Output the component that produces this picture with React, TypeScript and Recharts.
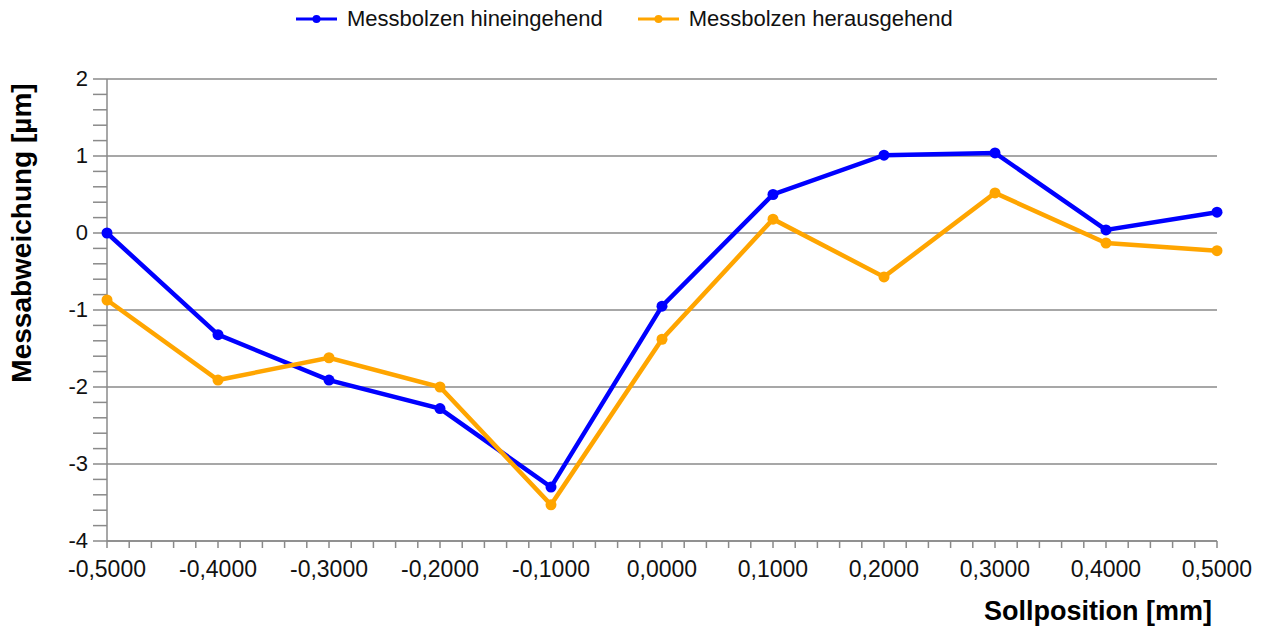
import React from 'react';
import { LineChart, Line, XAxis, YAxis, ReferenceLine } from 'recharts';

const positions = [-0.5, -0.4, -0.3, -0.2, -0.1, 0, 0.1, 0.2, 0.3, 0.4, 0.5];
const hineingehend = [0, -1.32, -1.91, -2.28, -3.3, -0.95, 0.5, 1.01, 1.04, 0.04, 0.27];
const herausgehend = [-0.87, -1.91, -1.62, -2.0, -3.53, -1.38, 0.18, -0.57, 0.52, -0.13, -0.23];

const yMajor = [-4, -3, -2, -1, 0, 1, 2];
// minor ticks: 5 per 0.1 on x, 5 per 1 on y
const xTicks: number[] = [];
for (let i = 0; i <= 50; i++) xTicks.push(Math.round(i * 2 - 50) / 100);
const yTicks: number[] = [];
for (let i = 0; i <= 30; i++) yTicks.push(Math.round(i * 2 - 40) / 10);

const series = [
  { key: 'hinein', name: 'Messbolzen hineingehend', color: '#0000ff', values: hineingehend },
  { key: 'heraus', name: 'Messbolzen herausgehend', color: '#ffa500', values: herausgehend }
];

const data = positions.map((x, i) => ({
  x,
  hinein: hineingehend[i],
  heraus: herausgehend[i]
}));

const FONT = '"Liberation Sans", Arial, sans-serif';
const GRID = '#8a8a8a';

const isMajor = (v: number, step: number) => Math.abs(v / step - Math.round(v / step)) < 1e-6;

function XTick(props: any) {
  const { x, y, payload } = props;
  if (!isMajor(payload.value, 0.1)) return <g />;
  const label = payload.value.toFixed(4).replace('.', ',');
  return (
    <text x={x} y={y} dy={29} textAnchor="middle" fontSize={23} fontFamily={FONT} fill="#111">
      {label === '-0,0000' ? '0,0000' : label}
    </text>
  );
}

function YTick(props: any) {
  const { x, y, payload } = props;
  if (!isMajor(payload.value, 1)) return <g />;
  return (
    <text x={x} y={y} dx={-5} dy={7} textAnchor="end" fontSize={22} fontFamily={FONT} fill="#111">
      {Math.round(payload.value)}
    </text>
  );
}

function LegendIcon({ color }: { color: string }) {
  return (
    <svg width={41} height={12} style={{ display: 'block' }}>
      <line x1={0} y1={6} x2={41} y2={6} stroke={color} strokeWidth={3} />
      <circle cx={20.5} cy={6} r={4} fill={color} />
    </svg>
  );
}

export default function App() {
  return (
    <div style={{ position: 'absolute', left: 0, top: 0, width: 1264, height: 628, background: '#fff' }}>
      <div
        style={{
          position: 'absolute',
          left: 296,
          top: 6,
          display: 'flex',
          alignItems: 'center',
          fontFamily: FONT,
          fontSize: 22,
          color: '#111'
        }}
      >
        {series.map((s, i) => (
          <div key={s.key} style={{ display: 'flex', alignItems: 'center', marginLeft: i === 0 ? 0 : 35 }}>
            <LegendIcon color={s.color} />
            <span style={{ marginLeft: 10 }}>{s.name}</span>
          </div>
        ))}
      </div>
      <LineChart width={1264} height={628} data={data} margin={{ top: 79, right: 47, left: 0, bottom: 0 }}>
        {yMajor.map((v) => (
          <ReferenceLine key={v} y={v} stroke={GRID} strokeWidth={1.5} />
        ))}
        <XAxis
          dataKey="x"
          type="number"
          domain={[-0.5, 0.5]}
          ticks={xTicks}
          interval={0}
          height={87}
          tickSize={7}
          tickMargin={0}
          axisLine={{ stroke: GRID, strokeWidth: 1.5 }}
          tickLine={{ stroke: GRID, strokeWidth: 1.5 }}
          tick={XTick}
          label={{
            content: (p: any) => (
              <text
                x={p.viewBox.x + p.viewBox.width - 5}
                y={p.viewBox.y + 79}
                textAnchor="end"
                fontSize={27}
                fontWeight="bold"
                fontFamily={FONT}
                fill="#000"
              >
                Sollposition [mm]
              </text>
            )
          }}
        />
        <YAxis
          type="number"
          domain={[-4, 2]}
          ticks={yTicks}
          interval={0}
          width={107}
          tickSize={14}
          tickMargin={0}
          axisLine={{ stroke: GRID, strokeWidth: 1.5 }}
          tickLine={{ stroke: GRID, strokeWidth: 1.5 }}
          tick={YTick}
          label={{
            content: (p: any) => {
              const cx = 31;
              const cy = p.viewBox.y + p.viewBox.height / 2 - 77;
              return (
                <text
                  x={cx}
                  y={cy}
                  transform={`rotate(-90, ${cx}, ${cy})`}
                  textAnchor="middle"
                  fontSize={28}
                  fontWeight="bold"
                  fontFamily={FONT}
                  fill="#000"
                >
                  Messabweichung [µm]
                </text>
              );
            }
          }}
        />
        {series.map((s) => (
          <Line
            key={s.key}
            type="linear"
            dataKey={s.key}
            name={s.name}
            stroke={s.color}
            strokeWidth={4.5}
            dot={{ r: 5.5, fill: s.color, stroke: s.color, strokeWidth: 0 }}
            activeDot={false}
            isAnimationActive={false}
          />
        ))}
      </LineChart>
    </div>
  );
}
